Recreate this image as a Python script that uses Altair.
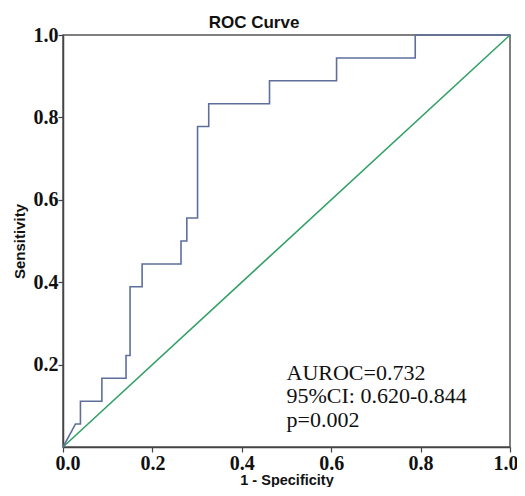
import altair as alt
import pandas as pd

# ROC step curve (1 - specificity, sensitivity)
fpr = [0.0, 0.028, 0.039, 0.039, 0.087, 0.087, 0.141, 0.141, 0.150, 0.150,
       0.177, 0.177, 0.264, 0.264, 0.277, 0.277, 0.301, 0.301, 0.326, 0.326,
       0.462, 0.462, 0.612, 0.612, 0.788, 0.788, 1.0]
tpr = [0.0, 0.056, 0.056, 0.111, 0.111, 0.167, 0.167, 0.222, 0.222, 0.389,
       0.389, 0.444, 0.444, 0.500, 0.500, 0.556, 0.556, 0.778, 0.778, 0.833,
       0.833, 0.889, 0.889, 0.944, 0.944, 1.0, 1.0]

ref_x = [0.0, 1.0]
ref_y = [0.0, 1.0]

x_ticks = [0.0, 0.2, 0.4, 0.6, 0.8, 1.0]
y_ticks = [0.2, 0.4, 0.6, 0.8, 1.0]

title_text = ["ROC Curve"]
annot_lines = ["AUROC=0.732", "95%CI: 0.620-0.844", "p=0.002"]
annot_x = [0.5]
annot_y = [0.163]

roc_df = pd.DataFrame({"fpr": fpr, "tpr": tpr, "order": list(range(len(fpr)))})
ref_df = pd.DataFrame({"fpr": ref_x, "tpr": ref_y})
ann_df = pd.DataFrame({"x": annot_x, "y": annot_y, "t": ["\n".join(annot_lines)]})
title_df = pd.DataFrame({"t": title_text})

xscale = alt.Scale(domain=[0, 1], nice=False, zero=False)
yscale = alt.Scale(domain=[0, 1], nice=False, zero=False)

x_axis = alt.Axis(values=x_ticks, format=".1f", title="1 - Specificity",
                  grid=False, tickSize=5, labelPadding=1,
                  labelFont="Liberation Serif", labelFontWeight="bold", labelFontSize=20,
                  labelColor="#111", titleFont="Liberation Sans", titleFontWeight="bold",
                  titleFontSize=14.5, titleColor="#111", titleBaseline="alphabetic",
                  titleY=37,
                  domainColor="#444", tickColor="#444", domainWidth=1.5, tickWidth=1.2,
                  labelFlush=True, labelFlushOffset=8, labelOverlap=False)
y_axis = alt.Axis(values=y_ticks, format=".1f", title="Sensitivity",
                  grid=False, tickSize=5, labelPadding=0,
                  labelFont="Liberation Serif", labelFontWeight="bold", labelFontSize=20,
                  labelColor="#111", titleFont="Liberation Sans", titleFontWeight="bold",
                  titleFontSize=15, titleColor="#111", titlePadding=6,
                  domainColor="#444", tickColor="#444", domainWidth=1.5, tickWidth=1.2,
                  labelFlush=False, labelOverlap=False)

roc = alt.Chart(roc_df).mark_line(color="#5e6f9c", strokeWidth=1.6).encode(
    x=alt.X("fpr:Q", scale=xscale, axis=x_axis),
    y=alt.Y("tpr:Q", scale=yscale, axis=y_axis),
    order="order:Q",
)

ref = alt.Chart(ref_df).mark_line(color="#33a068", strokeWidth=1.6).encode(
    x=alt.X("fpr:Q", scale=xscale),
    y=alt.Y("tpr:Q", scale=yscale),
)

ann = alt.Chart(ann_df).mark_text(
    align="left", baseline="alphabetic", font="Liberation Serif", fontSize=22,
    lineHeight=23.5, lineBreak="\n", color="#111"
).encode(x=alt.X("x:Q", scale=xscale), y=alt.Y("y:Q", scale=yscale), text="t:N")

ttl = alt.Chart(title_df).mark_text(
    align="center", baseline="alphabetic", font="Liberation Sans", fontWeight="bold",
    fontSize=17, color="#111"
).encode(x=alt.value(191), y=alt.value(-7), text="t:N")

chart = alt.layer(ref, roc, ann, ttl).properties(
    width=447, height=412,
    autosize=alt.AutoSizeParams(type="none"),
    padding={"left": 55, "top": 27, "right": 7, "bottom": 40},
).configure_view(stroke="#555", strokeWidth=1.5)

chart.save("out.html", embed_options={"renderer": "svg", "actions": False})
